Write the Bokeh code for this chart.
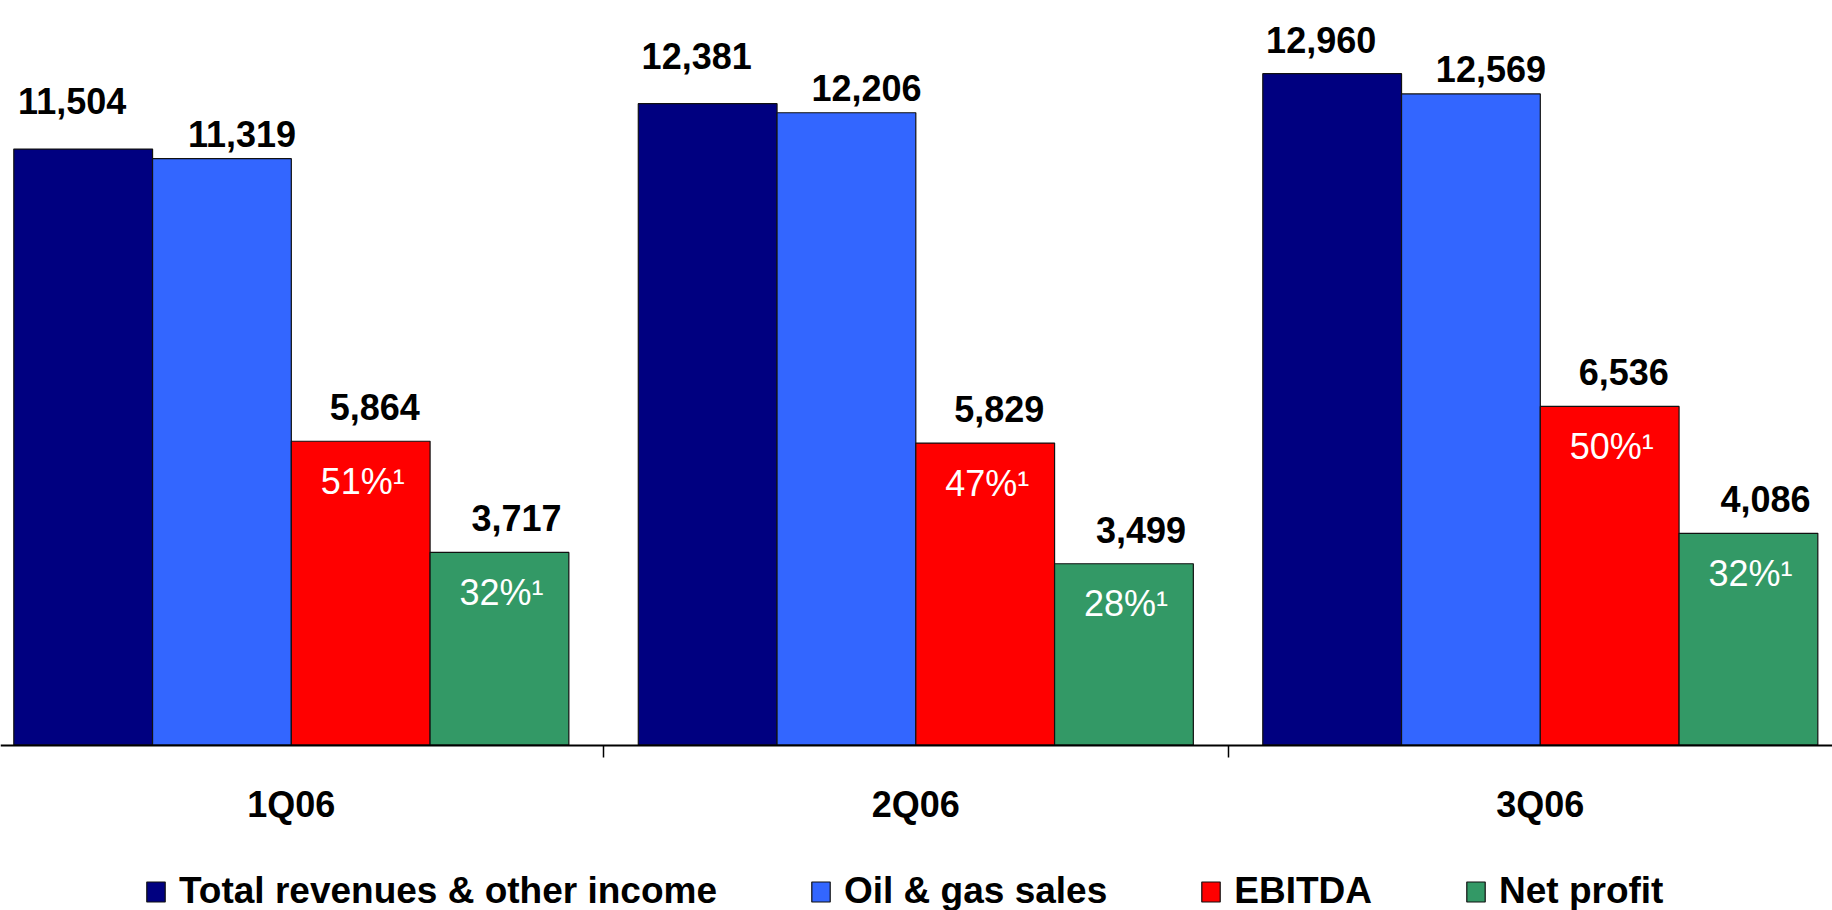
from bokeh.plotting import figure
from bokeh.models import (Range1d, LinearAxis, FixedTicker, Legend, LegendItem,
                          ColumnDataSource)
from bokeh.core.properties import value
from bokeh.embed import file_html
from bokeh.resources import INLINE

# ---------------- data ----------------
quarters = ["1Q06", "2Q06", "3Q06"]
series_names = ["Total revenues & other income", "Oil & gas sales", "EBITDA", "Net profit"]
total_revenues = [11504, 12381, 12960]
oil_gas_sales = [11319, 12206, 12569]
ebitda = [5864, 5829, 6536]
net_profit = [3717, 3499, 4086]
ebitda_margin = [51, 47, 50]
net_margin = [32, 28, 32]

# ---------------- styles ----------------
FONT = "Liberation Sans"
WEIGHT = "bold"
colors = ["#000080", "#3366FF", "#FF0000", "#339966"]
bar_w = 0.2222
Y_LO, Y_HI, H = -3195, 14373, 910
PX_PER_UNIT = H / (Y_HI - Y_LO)
# per-series label placement (screen px): horizontal shift, gap above bar top
label_dx = [-11, 20, 14, 17]
label_gap = [35, 12, 21, 21]
BASELINE_FIX = 13
LABEL_MIN_TOP_PX = 692  # label baseline may not rise more than this above the x axis

p = figure(width=1832, height=H, output_backend="svg", toolbar_location=None,
           x_range=Range1d(-0.4657, 2.4679), y_range=Range1d(Y_LO, Y_HI),
           x_axis_location=None, y_axis_location=None,
           min_border=0, min_border_left=0, min_border_right=0,
           min_border_top=0, min_border_bottom=0)
p.outline_line_color = None
p.xgrid.visible = False
p.ygrid.visible = False
p.background_fill_color = "white"
p.border_fill_color = "white"

xs = list(range(len(quarters)))
all_series = [total_revenues, oil_gas_sales, ebitda, net_profit]
renderers = []
for i, vals in enumerate(all_series):
    off = (i - 1.5) * bar_w
    offs = []
    for v in vals:
        bar_px = v * PX_PER_UNIT
        want = bar_px + label_gap[i]
        lab = min(want, LABEL_MIN_TOP_PX)
        offs.append(-(lab - bar_px) - BASELINE_FIX)
    src = ColumnDataSource(dict(
        x=[x + off for x in xs], top=vals, yo=offs,
        lbl=[f"{v:,}" for v in vals]))
    r = p.vbar(x="x", top="top", bottom=0, width=bar_w, source=src,
               fill_color=colors[i], line_color="#111111", line_width=1.2)
    renderers.append(r)
    p.text(x="x", y="top", text="lbl", source=src,
           x_offset=label_dx[i], y_offset="yo",
           text_align="center", text_baseline="alphabetic",
           text_font=value(FONT), text_font_style=WEIGHT,
           text_font_size="36px", text_color="black")

# margin labels inside EBITDA / Net profit bars
for i, (vals, m) in enumerate([(ebitda, ebitda_margin), (net_profit, net_margin)]):
    off = (i + 0.5) * bar_w
    src = ColumnDataSource(dict(x=[x + off for x in xs], y=vals,
                                lbl=[f"{v}%\u00b9" for v in m]))
    p.text(x="x", y="y", text="lbl", source=src, x_offset=2, y_offset=53 - BASELINE_FIX,
           text_align="center", text_baseline="alphabetic",
           text_font=value(FONT), text_font_style="normal",
           text_font_size="36px", text_color="white")

# category axis at baseline
xaxis = LinearAxis(fixed_location=0,
                   ticker=FixedTicker(ticks=xs, minor_ticks=[0.5, 1.5]),
                   major_label_overrides={i: q for i, q in enumerate(quarters)})
xaxis.axis_line_color = "black"
xaxis.axis_line_width = 2
xaxis.major_tick_line_color = None
xaxis.major_tick_out = 0
xaxis.major_tick_in = 0
xaxis.minor_tick_line_color = "black"
xaxis.minor_tick_line_width = 1.5
xaxis.minor_tick_out = 12
xaxis.minor_tick_in = 0
xaxis.major_label_standoff = 27
xaxis.major_label_text_font = FONT
xaxis.major_label_text_font_style = WEIGHT
xaxis.major_label_text_font_size = "36px"
xaxis.major_label_text_color = "black"
p.add_layout(xaxis, "below")

legend = Legend(items=[LegendItem(label=n, renderers=[r]) for n, r in zip(series_names, renderers)],
                orientation="horizontal", location=(144, -2),
                glyph_width=23, glyph_height=25, label_standoff=12, spacing=92,
                padding=0, margin=0, border_line_color=None, background_fill_alpha=0,
                label_text_font=FONT, label_text_font_style=WEIGHT,
                label_text_font_size="37px", label_text_color="black",
                label_height=25)
p.add_layout(legend, "center")

open("out.html", "w").write(file_html(p, INLINE))
